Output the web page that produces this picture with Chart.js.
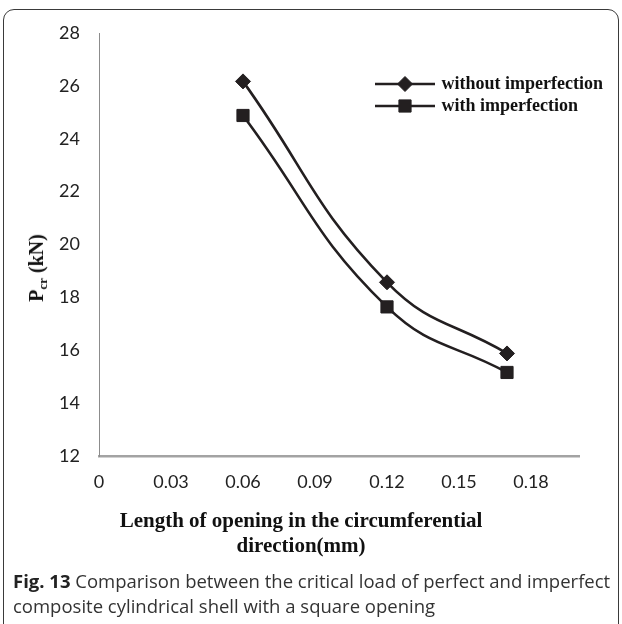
<!DOCTYPE html>
<html>
<head>
<meta charset="utf-8">
<script src="https://cdn.jsdelivr.net/npm/chart.js@4"></script>
<style>
  html, body { margin:0; padding:0; background:#fff; }
  body { width:622px; height:624px; position:relative; overflow:hidden; }
  #frame { position:absolute; left:3px; top:9px; width:616px; height:700px;
           border:1.6px solid #3a3a3a; border-radius:11px; box-sizing:border-box; }
  #c { position:absolute; left:0; top:0; }
  .ytitle { position:absolute; left:38px; top:268px; transform:translate(-50%,-50%) rotate(-90deg);
            font-family:"Liberation Serif","Times New Roman",serif; font-weight:bold; font-size:20px;
            color:#111; white-space:nowrap; }
  .ytitle sub { font-size:13px; vertical-align:-4px; }
  .xtitle { position:absolute; left:301px; transform:translate(-50%,-50%);
            font-family:"Liberation Serif","Times New Roman",serif; font-weight:bold; font-size:21px;
            color:#111; white-space:nowrap; }
  .cap { position:absolute; left:13px; transform:translateY(-50%);
         font-family:"Open Sans",sans-serif; font-size:18.5px; color:#333; white-space:nowrap; }
  .cap b { color:#222; }
</style>
</head>
<body>
<div id="frame"></div>
<canvas id="c" width="622" height="624"></canvas>
<div class="ytitle">P<sub>cr</sub> (kN)</div>
<div class="xtitle" style="top:520px">Length of opening in the circumferential</div>
<div class="xtitle" style="top:545px">direction(mm)</div>
<div class="cap" style="top:580px"><b>Fig. 13</b> Comparison between the critical load of perfect and imperfect</div>
<div class="cap" style="top:605px">composite cylindrical shell with a square opening</div>
<script>
const openingLength = [0.06, 0.12, 0.17];
const withoutImperfection = [26.17, 18.57, 15.88];
const withImperfection = [24.88, 17.64, 15.16];
const seriesNames = ['without imperfection', 'with imperfection'];
const xTickValues = [0, 0.03, 0.06, 0.09, 0.12, 0.15, 0.18];
const xTickLabels = ['0', '0.03', '0.06', '0.09', '0.12', '0.15', '0.18'];
const yTickValues = [12, 14, 16, 18, 20, 22, 24, 26, 28];

const toXY = (xs, ys) => xs.map((x, i) => ({ x: x, y: ys[i] }));

const legendPlugin = {
  id: 'excelLegend',
  afterDraw(chart) {
    const ctx = chart.ctx;
    const rows = [84, 106];
    chart.data.datasets.forEach((ds, i) => {
      const y = rows[i];
      ctx.save();
      ctx.strokeStyle = ds.borderColor;
      ctx.lineWidth = ds.borderWidth;
      ctx.beginPath();
      ctx.moveTo(375, y); ctx.lineTo(435, y);
      ctx.stroke();
      ctx.fillStyle = '#231f20';
      ctx.strokeStyle = '#231f20';
      ctx.lineWidth = 1;
      Chart.helpers.drawPoint(ctx, {
        pointStyle: ds.pointStyle, radius: ds.pointRadius, borderWidth: 1, rotation: 0
      }, 405, y);
      ctx.fillStyle = '#111';
      ctx.font = 'bold 18px "Liberation Serif", "Times New Roman", serif';
      ctx.textBaseline = 'middle';
      ctx.textAlign = 'left';
      ctx.fillText(ds.label, 441.5, y);
      ctx.restore();
    });
  }
};

new Chart(document.getElementById('c'), {
  type: 'scatter',
  data: {
    datasets: [
      {
        label: seriesNames[0],
        data: toXY(openingLength, withoutImperfection),
        showLine: true, tension: 0.45,
        borderColor: '#231f20', borderWidth: 2.6,
        pointStyle: 'rectRot', pointRadius: 7.5,
        pointBackgroundColor: '#231f20', pointBorderColor: '#231f20', pointBorderWidth: 1
      },
      {
        label: seriesNames[1],
        data: toXY(openingLength, withImperfection),
        showLine: true, tension: 0.45,
        borderColor: '#231f20', borderWidth: 2.6,
        pointStyle: 'rect', pointRadius: 8.6,
        pointBackgroundColor: '#231f20', pointBorderColor: '#231f20', pointBorderWidth: 1
      }
    ]
  },
  options: {
    responsive: false,
    animation: false,
    events: [],
    layout: { padding: { left: 0, top: 33, right: 43, bottom: 0 } },
    plugins: { legend: { display: false }, tooltip: { enabled: false } },
    scales: {
      x: {
        type: 'linear', min: 0, max: 0.2,
        afterBuildTicks: (axis) => { axis.ticks = xTickValues.map(v => ({ value: v })); },
        afterFit: (axis) => { axis.height = 168; },
        grid: { display: false, drawTicks: false },
        border: { display: true, color: '#a3a3a3', width: 2.4 },
        ticks: {
          padding: 15, color: '#222',
          font: { family: 'Lato', size: 18 },
          callback: (v, i) => xTickLabels[i]
        }
      },
      y: {
        type: 'linear', min: 12, max: 28,
        afterBuildTicks: (axis) => { axis.ticks = yTickValues.map(v => ({ value: v })); },
        afterFit: (axis) => { axis.width = 99; },
        grid: { display: false, drawTicks: false },
        border: { display: true, color: '#8c8c8c', width: 1 },
        ticks: {
          padding: 19, color: '#222',
          font: { family: 'Lato', size: 18 },
          callback: (v) => String(v)
        }
      }
    }
  },
  plugins: [legendPlugin]
});
</script>
</body>
</html>
